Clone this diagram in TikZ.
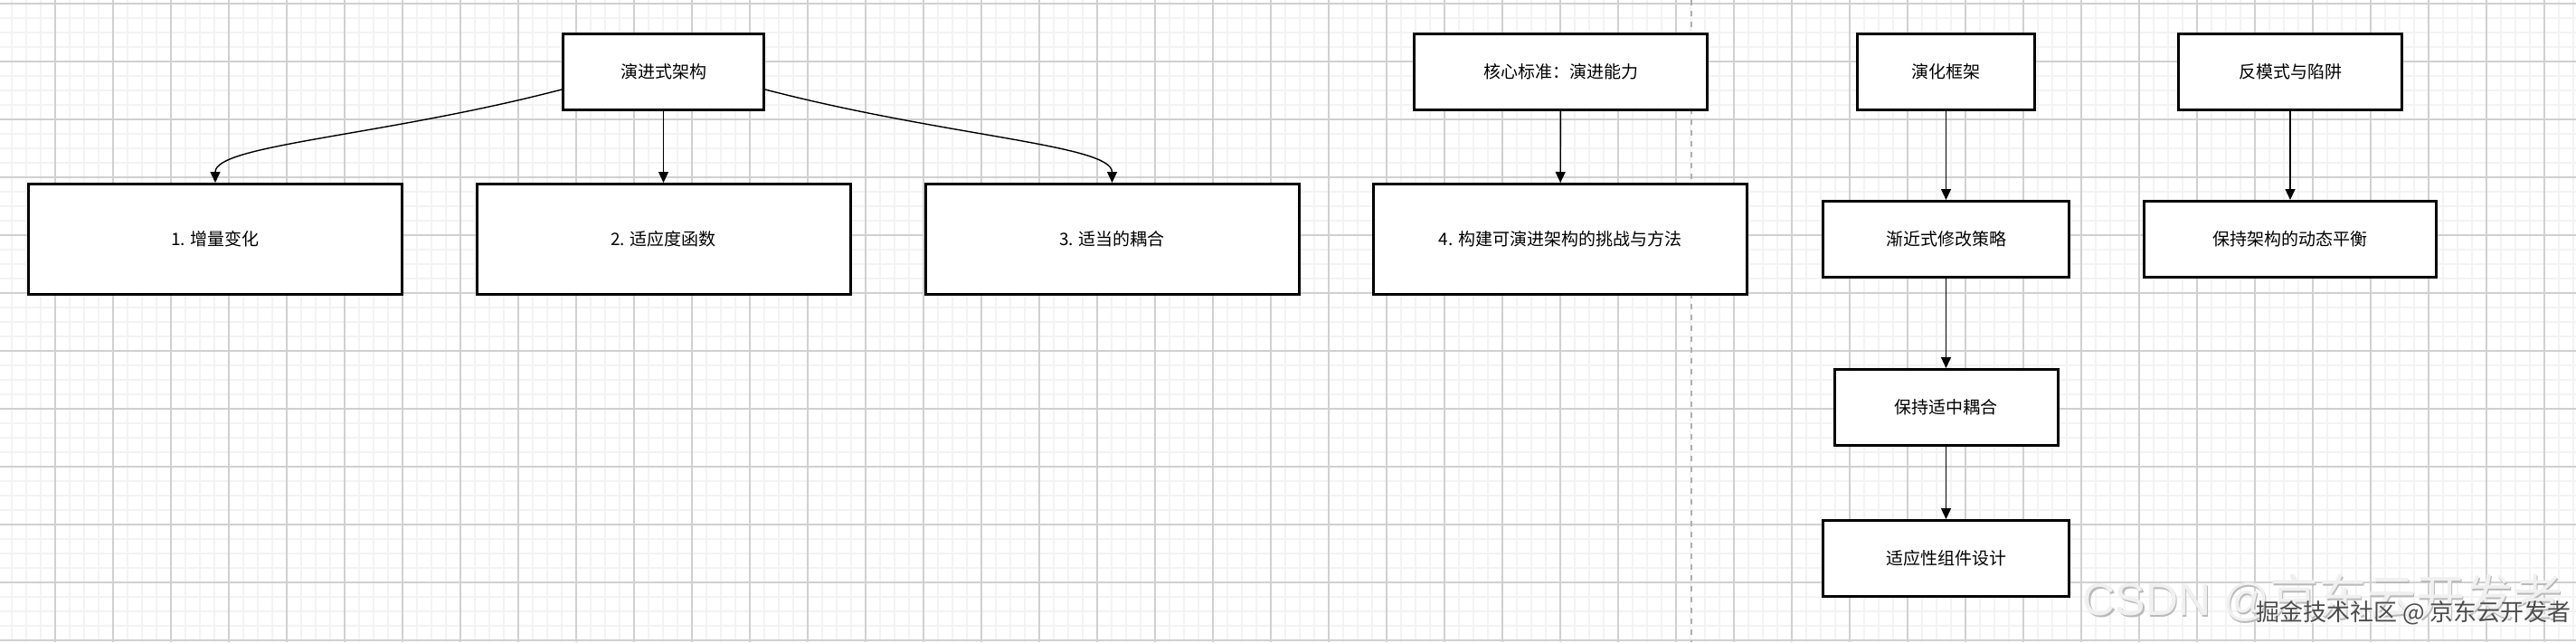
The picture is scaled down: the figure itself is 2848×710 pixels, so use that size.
\documentclass[tikz,border=0pt]{standalone}
\usepackage{fontspec}
\setmainfont{Noto Sans CJK SC}
\newfontfamily\wmlatin{Liberation Sans}
\usepackage{tikz}
\usetikzlibrary{positioning, arrows.meta}

\definecolor{gridmajor}{RGB}{208,208,208}
\definecolor{gridminor}{RGB}{243,243,243}
\definecolor{pagebreak}{RGB}{175,175,175}

\newcommand{\csdnmark}{{\wmlatin\fontsize{50}{50}\selectfont CSDN @}{\fontsize{54}{54}\selectfont 京东云开发者}}

\begin{document}
\begin{tikzpicture}[
  x=1pt, y=-1pt,
  box/.style={draw=black, line width=3pt, fill=white, align=center, inner sep=0pt,
    font=\fontsize{19}{22}\selectfont},
  wide/.style={box, minimum width=413pt, minimum height=122pt},
  small/.style={box, minimum height=84pt},
  link/.style={line width=1.4pt, -{Triangle[length=12pt,width=11pt]}},
  wm/.style={anchor=base west, inner sep=0pt},
]
  % canvas and grid
  \useasboundingbox (0,0) rectangle (2848,710);
  \fill[white] (0,0) rectangle (2848,710);
  \foreach \gx in {13,29,...,2845} \draw[gridminor, line width=1.5pt] (\gx,0) -- (\gx,710);
  \foreach \gy in {4,20,...,708} \draw[gridminor, line width=1.5pt] (0,\gy) -- (2848,\gy);
  \foreach \gx in {61,125,...,2845} \draw[gridmajor, line width=1.2pt] (\gx,0) -- (\gx,710);
  \foreach \gy in {4,68,...,708} \draw[gridmajor, line width=1.2pt] (0,\gy) -- (2848,\gy);
  \draw[pagebreak, line width=2pt, dash pattern=on 6pt off 6pt] (1870,0) -- (1870,710);

  % main tree
  \node[small, minimum width=222pt] (arch) at (733.5,79.5) {演进式架构};
  \node[wide] (incr) at (238,264.5) {1. 增量变化};
  \node[wide] (fitfn) at (733.5,264.5) {2. 适应度函数};
  \node[wide] (coupl) at (1229.5,264.5) {3. 适当的耦合};
  \draw[link] ([yshift=-19.5pt]arch.west) .. controls +(-200,52) and +(0,-42) .. (incr.north);
  \draw[link] (arch) -- (fitfn);
  \draw[link] ([yshift=-19.5pt]arch.east) .. controls +(200,52) and +(0,-42) .. (coupl.north);

  % core criterion
  \node[small, minimum width=324pt] (core) at (1725.5,79.5) {核心标准：演进能力};
  \node[wide] (chall) at (1725,264.5) {4. 构建可演进架构的挑战与方法};
  \draw[link] (core) -- (chall);

  % evolution framework
  \node[small, minimum width=196pt] (frame) at (2151.5,79.5) {演化框架};
  \node[small, minimum width=272pt, below=98pt of frame] (strat) {渐近式修改策略};
  \node[small, minimum width=247pt, below=99pt of strat] (midcpl) {保持适中耦合};
  \node[small, minimum width=272pt, below=80pt of midcpl] (adapt) {适应性组件设计};
  \draw[link] (frame) -- (strat);
  \draw[link] (strat) -- (midcpl);
  \draw[link] (midcpl) -- (adapt);

  % anti-patterns
  \node[small, minimum width=247pt] (anti) at (2532,79.5) {反模式与陷阱};
  \node[small, minimum width=323pt, below=98pt of anti] (balance) {保持架构的动态平衡};
  \draw[link] (anti) -- (balance);

  % watermarks
  \node[wm, text=gray!55] (csdnA) at (2304,682) {\csdnmark};
  \node[wm, text=gray!12] (csdnB) at (2302.5,680.5) {\csdnmark};
  \node[wm, text=white, font=\fontsize{26}{26}\selectfont] (juejinA) at (2495.5,687.5) {掘金技术社区 @ 京东云开发者};
  \node[wm, text=black!70, font=\fontsize{26}{26}\selectfont] (juejinB) at (2494,686) {掘金技术社区 @ 京东云开发者};
\end{tikzpicture}
\end{document}
